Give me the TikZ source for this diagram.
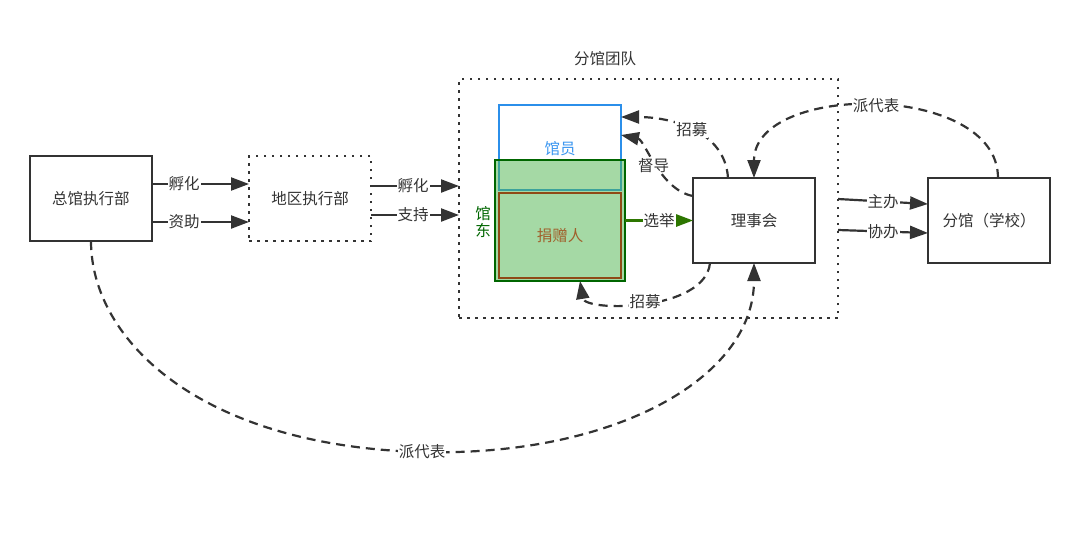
\documentclass[tikz,border=0pt]{standalone}
\usepackage{fontspec}
\setmainfont{Noto Sans CJK SC}
\usetikzlibrary{arrows.meta}
\definecolor{ink}{HTML}{333333}
\definecolor{bluee}{HTML}{2B8FEA}
\definecolor{bluet}{HTML}{3A96F0}
\definecolor{gfill}{HTML}{4DB54D}
\definecolor{gline}{HTML}{006600}
\definecolor{brownl}{HTML}{8F4A16}
\definecolor{brownt}{HTML}{A0602C}
\definecolor{garrow}{HTML}{2D7600}
\newcommand{\fs}{\fontsize{15.5pt}{18pt}\selectfont}
\begin{document}
\begin{tikzpicture}[x=1pt,y=-1pt,
  box/.style={draw=ink, line width=2.2pt, fill=white, minimum width=122pt, minimum height=85pt, inner sep=0pt, outer sep=0pt, font=\fs, text=ink},
  dotbox/.style={box, dash pattern=on 2.5pt off 5.5pt},
  conn/.style={draw=ink, line width=2.2pt, -{Triangle[length=18pt,width=13pt]}},
  dconn/.style={conn, dash pattern=on 9pt off 6pt},
  lbl/.style={fill=white, inner sep=1pt, text=ink, font=\fs}]
\useasboundingbox[fill=white] (0,0) rectangle (1080,558);

% container
\node[draw=ink, line width=2.2pt, dash pattern=on 2.5pt off 5.5pt, minimum width=379pt, minimum height=239pt, inner sep=0pt, outer sep=0pt] (tm) at (648.5,198.5) {};
\node[lbl] (tmlabel) at (605,59) {分馆团队};

% inner boxes
\node[draw=bluee, line width=2.2pt, fill=white, minimum width=122pt, minimum height=85pt, inner sep=0pt, outer sep=0pt] (gy) at (560,147.5) {};
\node[text=bluet, font=\fs] (gytext) at (560,149) {馆员};
\node[draw=gline, line width=2.2pt, fill=gfill, fill opacity=0.5, draw opacity=1, minimum width=130pt, minimum height=121pt, inner sep=0pt, outer sep=0pt] (gd) at (560,220.5) {};
\node[draw=brownl, line width=2.2pt, minimum width=122pt, minimum height=85pt, inner sep=0pt, outer sep=0pt, text=brownt, font=\fs] (jz) at (560,235.5) {\raisebox{-2pt}{捐赠人}};
\node[text=gline, font=\fs, align=center, inner sep=0pt] (gdlabel) at (483,222.5) {馆\\[-1pt]东};

% main boxes
\node[box] (zg) at (91,198.5) {总馆执行部};
\node[dotbox] (dq) at (310,198.5) {地区执行部};
\node[box] (lsh) at (754,220.5) {理事会};
\node[box] (fg) at (989,220.5) {分馆（学校）};

% straight connectors
\draw[conn] ([yshift=14.5pt]zg.east) -- node[lbl, pos=0.33] {孵化} ([yshift=14.5pt]dq.west);
\draw[conn] ([yshift=-23.5pt]zg.east) -- node[lbl, pos=0.33] {资助} ([yshift=-23.5pt]dq.west);
\draw[conn] ([yshift=12.5pt]dq.east) -- node[lbl, pos=0.48] {孵化} ([yshift=12.5pt]tm.west);
\draw[conn] ([yshift=-16.5pt]dq.east) -- node[lbl, pos=0.48] {支持} ([yshift=-16.5pt]tm.west);
\draw[conn] ([yshift=-0.5pt]tm.east) -- node[lbl, pos=0.5] {主办} ([yshift=16.5pt]fg.west);
\draw[conn] ([yshift=-31.5pt]tm.east) -- node[lbl, pos=0.5] {协办} ([yshift=-12.5pt]fg.west);
\draw[conn, draw=garrow, -{Triangle[length=18pt,width=13pt,fill=garrow]}] (gd.east) -- node[lbl, pos=0.5] {选举} (lsh.west);

% dashed connectors
\draw[dconn] ([xshift=-26pt]lsh.north) .. controls (725,130) and (670,117) .. node[lbl, pos=0.5] {招募} ([yshift=30.5pt]gy.east);
\draw[dconn] ([yshift=24.5pt]lsh.west) .. controls (660,190) and (645,140) .. node[lbl, pos=0.5] {督导} ([yshift=12.5pt]gy.east);
\draw[dconn] ([xshift=-44pt]lsh.south) .. controls (705,312) and (585,312) .. node[lbl, pos=0.5] {招募} ([xshift=20pt]gd.south);
\draw[dconn] ([xshift=9pt]fg.north) .. controls (998,82) and (754,82) .. node[lbl, pos=0.5] {派代表} (lsh.north);
\draw[dconn] (zg.south) .. controls (91,340) and (200,446) .. (422,452) node[lbl] {派代表} .. controls (610,457) and (754,380) .. (lsh.south);
\end{tikzpicture}
\end{document}
